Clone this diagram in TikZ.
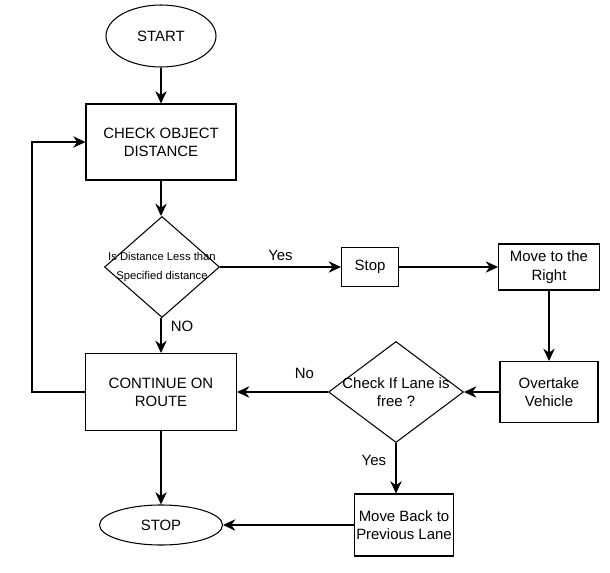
\documentclass[tikz,border=0pt]{standalone}
\usepackage{fontspec}
\setmainfont{Liberation Sans}
\usetikzlibrary{shapes.geometric, arrows.meta, positioning}

\tikzset{
  box/.style={draw, line width=0.6pt, fill=white, align=center, inner sep=1pt,
    font=\fontsize{8.5}{10.4}\selectfont},
  terminal/.style={box, ellipse},
  decision/.style={box, diamond, inner sep=0pt},
  flow/.style={line width=0.6pt, -{Stealth[length=7pt,width=6.5pt]}},
  lbl/.style={font=\fontsize{8.5}{9}\selectfont}
}

\begin{document}
\begin{tikzpicture}
    \useasboundingbox (0,0) rectangle (12.2,-11.46);
    % main column
    \node[terminal, minimum width=2.2cm, minimum height=1.24cm] (start) at (3.22,-0.72) {START};
    \node[box, minimum width=3cm, minimum height=1.52cm] (check) at (3.22,-2.84) {CHECK OBJECT\\DISTANCE};
    \node[decision, aspect=1.14, minimum width=2.3cm, minimum height=2.02cm, font=\fontsize{6.4}{10.8}\selectfont] (dist) at (3.24,-5.34) {\makebox[0pt]{Is Distance Less than}\\\makebox[0pt]{Specified distance}};
    \node[box, minimum width=3.02cm, minimum height=1.54cm] (cont) at (3.22,-7.84) {CONTINUE ON\\ROUTE};
    \node[terminal, minimum width=2.46cm, minimum height=0.8cm] (stopend) at (3.22,-10.5) {STOP};
    % overtaking branch
    \node[box, minimum width=1.14cm, minimum height=0.78cm] (halt) at (7.4,-5.34) {Stop};
    \node[box, minimum width=2.02cm, minimum height=0.92cm] (right) at (10.98,-5.34) {Move to the\\Right};
    \node[box, minimum width=1.96cm, minimum height=1.22cm] (overtake) at (10.98,-7.84) {Overtake\\Vehicle};
    \node[decision, aspect=1.34, minimum width=2.7cm, minimum height=2.02cm] (lane) at (7.92,-7.84) {\makebox[0pt]{Check If Lane is}\\\makebox[0pt]{free ?}};
    \node[box, minimum width=1.98cm, minimum height=1.24cm] (back) at (8.08,-10.5) {Move Back to\\Previous Lane};
    \coordinate (loop) at (0.64,-7.84);

    \draw[flow] (start) -- (check);
    \draw[flow] (check) -- (check |- dist.north);
    \draw[flow] (dist) -- node[lbl, above, pos=0.5] {Yes} (halt);
    \draw[flow] (halt) -- (right);
    \draw[flow] (right) -- (overtake);
    \draw[flow] (overtake) -- (lane);
    \draw[flow] (lane) -- node[lbl, above, pos=0.26, yshift=4pt] {No} (cont);
    \draw[flow] (dist.south -| cont) -- node[lbl, right, pos=0.25, xshift=2pt] {NO} (cont);
    \draw[flow] (cont.west) -- (loop) |- (check.west);
    \draw[flow] (cont) -- (stopend);
    \draw[flow] (lane.south) -- node[lbl, left, pos=0.35, xshift=-2pt] {Yes} (lane.south |- back.north);
    \draw[flow] (back) -- (stopend);
\end{tikzpicture}
\end{document}
